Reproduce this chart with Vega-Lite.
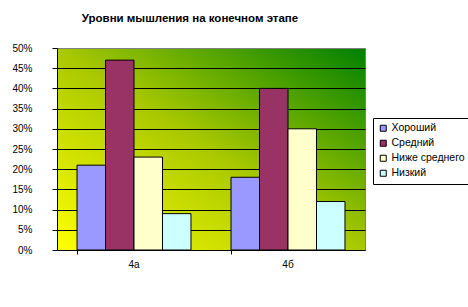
{
  "$schema": "https://vega.github.io/schema/vega-lite/v6.json",
  "autosize": {"type": "none"},
  "padding": {"left": 57, "top": 48, "right": 103, "bottom": 57},
  "width": 308,
  "height": 202,
  "background": "white",
  "title": {
    "text": "Уровни мышления на конечном этапе",
    "font": "Liberation Sans",
    "fontSize": 11.5,
    "fontWeight": "bold",
    "color": "black",
    "anchor": "middle",
    "dx": -21,
    "offset": 19
  },
  "data": {
    "values": [
      {"class": "4а", "level": "Хороший", "share": 0.21},
      {"class": "4а", "level": "Средний", "share": 0.47},
      {"class": "4а", "level": "Ниже среднего", "share": 0.23},
      {"class": "4а", "level": "Низкий", "share": 0.09},
      {"class": "4б", "level": "Хороший", "share": 0.18},
      {"class": "4б", "level": "Средний", "share": 0.40},
      {"class": "4б", "level": "Ниже среднего", "share": 0.30},
      {"class": "4б", "level": "Низкий", "share": 0.12}
    ]
  },
  "mark": {"type": "bar", "stroke": "black", "strokeWidth": 1},
  "encoding": {
    "x": {
      "field": "class",
      "type": "nominal",
      "scale": {"paddingInner": 0.26, "paddingOuter": 0.13},
      "axis": {
        "title": null,
        "labelAngle": 0,
        "labelFont": "Liberation Sans",
        "labelFontSize": 10,
        "labelColor": "black",
        "domainColor": "black",
        "tickColor": "black",
        "tickSize": 4,
        "bandPosition": 0,
        "labelPadding": 5,
        "grid": false
      }
    },
    "xOffset": {
      "field": "level",
      "type": "nominal",
      "sort": ["Хороший", "Средний", "Ниже среднего", "Низкий"],
      "scale": {"paddingInner": 0, "paddingOuter": 0}
    },
    "y": {
      "field": "share",
      "type": "quantitative",
      "scale": {"domain": [0, 0.5], "nice": false},
      "axis": {
        "title": null,
        "format": ".0%",
        "values": [0, 0.05, 0.1, 0.15, 0.2, 0.25, 0.3, 0.35, 0.4, 0.45, 0.5],
        "labelFont": "Liberation Sans",
        "labelFontSize": 10,
        "labelColor": "black",
        "labelPadding": 20,
        "domainColor": "black",
        "tickColor": "black",
        "tickSize": 5,
        "grid": true,
        "gridColor": {"condition": {"test": "datum.value >= 0.5", "value": "#808080"}, "value": "black"},
        "gridWidth": 1,
        "gridOpacity": 1
      }
    },
    "color": {
      "field": "level",
      "type": "nominal",
      "scale": {
        "domain": ["Хороший", "Средний", "Ниже среднего", "Низкий"],
        "range": ["#9999FF", "#993366", "#FFFFCC", "#CCFFFF"]
      },
      "legend": {
        "title": null,
        "orient": "none",
        "legendX": 316,
        "legendY": 70,
        "strokeColor": "black",
        "fillColor": "white",
        "padding": 5,
        "symbolType": "square",
        "symbolSize": 36,
        "symbolStrokeColor": "black",
        "symbolStrokeWidth": 1,
        "symbolOpacity": 1,
        "labelFont": "Liberation Sans",
        "labelFontSize": 10.5,
        "labelColor": "black",
        "labelOffset": 3,
        "rowPadding": 4
      }
    }
  },
  "config": {
    "view": {
      "stroke": "#808080",
      "fill": {
        "gradient": "linear",
        "x1": 0, "y1": 1, "x2": 1, "y2": 0,
        "stops": [
          {"offset": 0, "color": "#FFFF00"},
          {"offset": 0.5, "color": "#A8C800"},
          {"offset": 1, "color": "#008000"}
        ]
      }
    }
  }
}
